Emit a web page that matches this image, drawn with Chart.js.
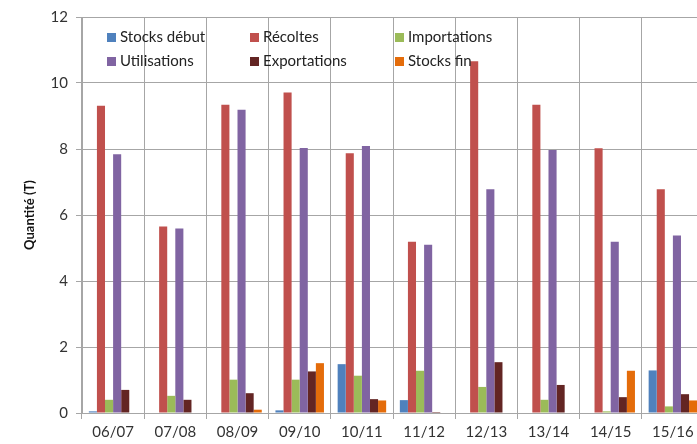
<!DOCTYPE html>
<html>
<head>
<meta charset="utf-8">
<script src="https://cdn.jsdelivr.net/npm/chart.js@4"></script>
<style>
  html, body { margin:0; padding:0; background:#fff; overflow:hidden; width:697px; height:444px; }
  #wrap { position:relative; width:720px; height:444px; }
  canvas { display:block; }
  .lg { position:absolute; font-family: Lato, "Open Sans", sans-serif; font-size:15px; color:#222; line-height:18px; white-space:nowrap; }
  .lg i { display:inline-block; width:9px; height:9px; margin-right:4px; vertical-align:0px; }
</style>
</head>
<body>
<div id="wrap">
  <canvas id="c" width="720" height="444"></canvas>
  <div id="legend"></div>
</div>
<script>
const categories = ["06/07","07/08","08/09","09/10","10/11","11/12","12/13","13/14","14/15","15/16"];
const stocksDebut   = [0.05, 0, 0, 0.08, 1.48, 0.39, 0, 0, 0, 1.29];
const recoltes      = [9.31, 5.65, 9.34, 9.71, 7.87, 5.19, 10.66, 9.34, 8.02, 6.78];
const importations  = [0.40, 0.52, 1.01, 1.01, 1.13, 1.28, 0.79, 0.40, 0.05, 0.20];
const utilisations  = [7.84, 5.59, 9.19, 8.03, 8.09, 5.10, 6.78, 7.97, 5.19, 5.38];
const exportations  = [0.70, 0.40, 0.60, 1.26, 0.42, 0.03, 1.54, 0.85, 0.48, 0.57];
const stocksFin     = [0, 0, 0.10, 1.51, 0.38, 0, 0, 0, 1.28, 0.38];
const seriesLabels  = ["Stocks début","Récoltes","Importations","Utilisations","Exportations","Stocks fin"];
const seriesColors  = ["#4F81BD","#C0504D","#9BBB59","#8064A2","#632523","#E46C0A"];
const yTicks = [0,2,4,6,8,10,12];

const seriesData = [stocksDebut, recoltes, importations, utilisations, exportations, stocksFin];

const datasets = seriesData.map((d,i)=>({
  label: seriesLabels[i],
  data: d,
  backgroundColor: seriesColors[i],
  borderWidth: 0,
  categoryPercentage: 0.78,
  barPercentage: 1.0
}));

const font = { family: "Lato, 'Open Sans', sans-serif", size: 15 };

new Chart(document.getElementById('c'), {
  type: 'bar',
  data: { labels: categories, datasets },
  options: {
    responsive: false,
    animation: false,
    devicePixelRatio: 1,
    layout: { padding: { top: 10, right: 16, left: 0, bottom: 0 } },
    plugins: { legend: { display:false }, tooltip: { enabled:false } },
    scales: {
      x: {
        grid: { color:'#A6A6A6', lineWidth:1, offset:true, tickLength:6, drawOnChartArea:true },
        border: { color:'#A6A6A6', width:1 },
        ticks: { font, color:'#333', padding:4, maxRotation:0 },
        afterFit: s => { s.height = 31; }
      },
      y: {
        min: 0, max: 12,
        afterBuildTicks: s => { s.ticks = yTicks.map(v=>({value:v})); },
        grid: { color:'#A6A6A6', lineWidth:1, tickLength:6 },
        border: { color:'#A6A6A6', width:1 },
        ticks: { font, color:'#333', padding:8 },
        title: { display:true, text:'Quantité (T)', font:{ family:"Lato, 'Open Sans', sans-serif", size:13, weight:'bold' }, color:'#111', padding:{top:22,bottom:0} },
        afterFit: s => { s.width = 82; }
      }
    }
  }
});

const legendPos = [[107,27],[250,27],[395,27],[107,51],[250,51],[395,51]];
const lg = document.getElementById('legend');
seriesLabels.forEach((name,i)=>{
  const d = document.createElement('div');
  d.className = 'lg';
  d.style.left = legendPos[i][0]+'px';
  d.style.top = legendPos[i][1]+'px';
  d.innerHTML = '<i style="background:'+seriesColors[i]+'"></i>'+name;
  lg.appendChild(d);
});
</script>
</body>
</html>
